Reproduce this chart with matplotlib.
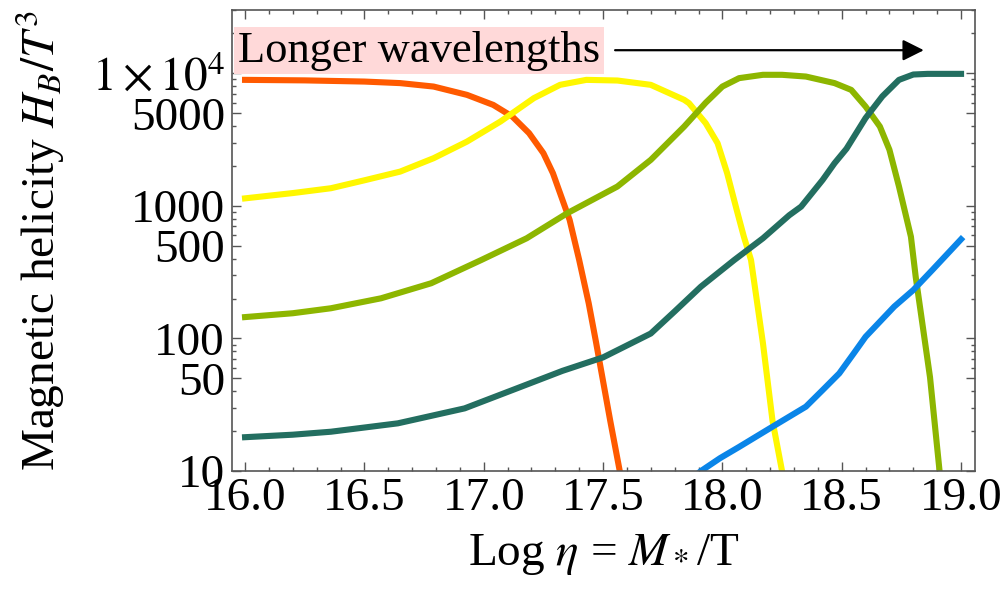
import matplotlib.pyplot as plt
from matplotlib.ticker import FixedLocator, FixedFormatter

plt.rcParams["font.family"] = ["Liberation Serif", "DejaVu Serif"]
plt.rcParams["mathtext.fontset"] = "stix"

# values (log eta, H_B/T^3)
x_orange = [16.0, 16.25, 16.5, 16.65, 16.79, 16.93, 17.04, 17.12, 17.19, 17.25, 17.29, 17.33,
            17.36, 17.38, 17.4, 17.44, 17.47, 17.53, 17.57, 17.6]
y_orange = [8930, 8850, 8670, 8440, 7950, 6880, 5780, 4720, 3540, 2500, 1765, 1110,
            784, 553, 391, 184, 95, 24, 10, 7]

x_yellow = [16.0, 16.2, 16.36, 16.5, 16.65, 16.79, 16.93, 17.07, 17.21, 17.32, 17.43, 17.56,
            17.7, 17.84, 17.86, 17.93, 17.98, 18.02, 18.06, 18.09, 18.12, 18.17, 18.21, 18.25, 18.27]
y_yellow = [1140, 1250, 1360, 1560, 1815, 2290, 3057, 4330, 6500, 8190, 8930, 8830,
            8190, 6310, 5960, 4210, 2970, 1765, 933, 586, 391, 92, 24, 10, 7]

x_green = [16.0, 16.2, 16.36, 16.57, 16.78, 16.99, 17.18, 17.35, 17.56, 17.7, 17.84,
           17.93, 18.0, 18.07, 18.17, 18.25, 18.35, 18.47, 18.54, 18.6, 18.66, 18.7,
           18.74, 18.79, 18.81, 18.87, 18.91, 18.93]
y_green = [145, 155, 169, 201, 261, 391, 570, 881, 1400, 2225, 3970,
           6000, 7950, 9200, 9750, 9750, 9460, 8440, 7500, 5620, 3970, 2650,
           1400, 586, 292, 51, 10, 7]

x_teal = [16.0, 16.2, 16.36, 16.64, 16.92, 17.12, 17.33, 17.5, 17.7, 17.8, 17.91, 18.05, 18.17,
          18.28, 18.33, 18.42, 18.47, 18.52, 18.6, 18.67, 18.74, 18.8, 18.86, 19.0]
y_teal = [18, 18.8, 19.8, 22.9, 29.7, 40.8, 57, 72, 109, 160, 246, 391, 570,
          850, 988, 1570, 2100, 2700, 4600, 6700, 8930, 9800, 9910, 9910]

x_blue = [17.88, 17.91, 17.99, 18.07, 18.21, 18.35, 18.42, 18.49, 18.55, 18.6, 18.72, 18.8, 18.88, 19.0]
y_blue = [9, 10, 12.5, 15.2, 21.6, 30.6, 40.8, 54.6, 77, 103, 174, 232, 329, 560]

y_ticks = [10, 50, 100, 500, 1000, 5000, 10000]
y_tick_labels = ["10", "50", "100", "500", "1000", "5000", r"$1\times10^4$"]
x_ticks = [16.0, 16.5, 17.0, 17.5, 18.0, 18.5, 19.0]

fig = plt.figure(figsize=(10.04, 5.94), dpi=100)
ax = fig.add_axes([0.231, 0.207, 0.740, 0.776])

lw = 4.4
ax.plot(x_orange, y_orange, color="#ff5a00", lw=lw)
ax.plot(x_yellow, y_yellow, color="#fff700", lw=lw)
ax.plot(x_green, y_green, color="#8db600", lw=lw)
ax.plot(x_teal, y_teal, color="#236e60", lw=lw)
ax.plot(x_blue, y_blue, color="#0a85e8", lw=lw)

ax.set_yscale("log")
ax.set_xlim(15.945, 19.058)
ax.set_ylim(10, 30000)

ax.yaxis.set_major_locator(FixedLocator(y_ticks))
ax.yaxis.set_major_formatter(FixedFormatter(y_tick_labels))
minor_y = [m * 10 ** k for k in range(1, 5) for m in (2, 3, 4, 6, 7, 8, 9)]
ax.yaxis.set_minor_locator(FixedLocator(minor_y))
ax.set_xticks(x_ticks)
ax.set_xticklabels([f"{v:.1f}" for v in x_ticks])
ax.set_xticks([16.0 + 0.1 * i for i in range(31)], minor=True)

frame = "#555555"
for s in ax.spines.values():
    s.set_color(frame)
    s.set_linewidth(1.2)
ax.tick_params(which="both", direction="in", top=True, right=True, color=frame, width=1)
ax.tick_params(which="major", length=6.5, labelsize=34, pad=5)
ax.tick_params(which="minor", length=3.2)

ax.set_xlabel(r"Log $\eta$ = $M_*$/T", fontsize=34, labelpad=8)
ax.set_ylabel(r"Magnetic helicity $H_B/T^3$", fontsize=34)
ax.yaxis.set_label_coords(-0.222, 0.5)

ax.text(0.008, 0.912, "Longer wavelengths", transform=ax.transAxes, fontsize=32,
        va="center", ha="left",
        bbox=dict(boxstyle="square,pad=0.08", fc="#ffd9d9", ec="none"))
ax.annotate("", xy=(0.935, 0.913), xytext=(0.512, 0.913), xycoords="axes fraction",
            arrowprops=dict(arrowstyle="-|>", color="black", lw=1.6, mutation_scale=32))

fig.savefig("out.png", dpi=100)
